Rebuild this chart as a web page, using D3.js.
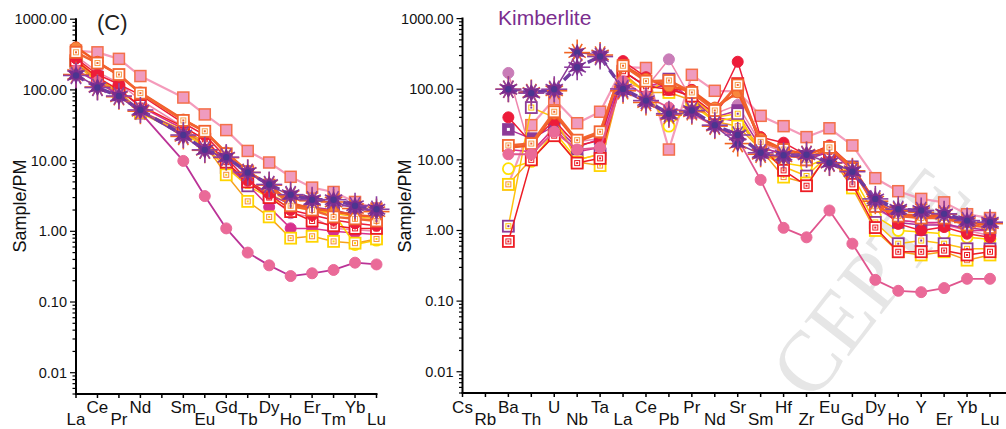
<!DOCTYPE html>
<html><head><meta charset="utf-8">
<script src="https://cdn.jsdelivr.net/npm/d3@7"></script>
<style>
body{margin:0;background:#fff}
svg{display:block;font-family:"Liberation Sans",Arial,Helvetica,sans-serif}
</style></head>
<body><svg id="c" width="1006" height="429"></svg>
<script>
// ---------- categories / ticks ----------
const reeAxis = ["La","Ce","Pr","Nd","Pm","Sm","Eu","Gd","Tb","Dy","Ho","Er","Tm","Yb","Lu"];
const reeAxisLabels = ["La","Ce","Pr","Nd","","Sm","Eu","Gd","Tb","Dy","Ho","Er","Tm","Yb","Lu"];
const reeData = ["La","Ce","Pr","Nd","Sm","Eu","Gd","Tb","Dy","Ho","Er","Tm","Yb","Lu"];
const spiderAxis = ["Cs","Rb","Ba","Th","U","Nb","Ta","La","Ce","Pb","Pr","Nd","Sr","Sm","Hf","Zr","Eu","Gd","Dy","Ho","Y","Er","Yb","Lu"];
const spiderData = ["Ba","Th","U","Nb","Ta","La","Ce","Pb","Pr","Nd","Sr","Sm","Hf","Zr","Eu","Gd","Dy","Ho","Y","Er","Yb","Lu"];
const yTickValues = [0.01,0.1,1,10,100,1000];
const yTickLabels = ["0.01","0.10","1.00","10.00","100.00","1000.00"];

// ---------- left panel (REE) values ----------
const leftPinkSquare    = [360,340,275,157,78,45,27,13.7,9.4,5.9,4.15,3.6,2.6,2.1];
const leftRedCircle     = [280,165,120,85,34,23,11,5.2,3.4,2.0,1.7,1.45,1.3,1.2];
const leftMagentaCircle = [220,140,100,58,28,18,8.5,4.6,2.2,1.1,1.1,1.0,0.95,0.9];
const leftPinkCircle    = [190,130,85,48,9.9,3.15,1.1,0.5,0.33,0.233,0.255,0.284,0.36,0.34];
const leftMauveCircle   = [300,180,125,72,30,20,9.5,5.0,3.1,1.8,1.6,1.1,1.05,1.0];
const leftOrangeSquare  = [340,240,165,90,37,26,12.5,7.0,4.5,2.3,2.0,1.6,1.5,1.4];
const leftYellowSquare  = [250,140,90,48,25,17,6.3,2.65,1.6,0.8,0.85,0.72,0.68,0.78];
const leftPurpleSquare  = [230,130,85,47,24,16,8,4.4,3.0,2.2,2.0,1.8,1.6,1.5];
const leftPurpleSquare2 = [240,140,90,50,26,17,9,4.8,3.3,2.4,2.2,2.0,1.7,1.6];
const leftRedSquare     = [260,150,100,60,30,20,9.5,5.0,3.0,1.9,1.4,1.2,1.1,1.1];
const leftYellowCircle  = [270,150,95,50,27,18,9,5,3.4,2.4,2.0,1.8,0.65,0.75];
const leftOrangeCircle  = [400,250,160,92,38,26,13,7,4.6,2.5,2.1,1.9,1.7,1.6];
const leftStarOrange    = [165,110,80,50,22,14,11,6.8,4.5,3.2,2.7,2.6,2.1,1.9];
const leftStarAverage   = [160,108,82,52,23,14.2,11.2,6.8,4.6,3.3,2.8,2.8,2.3,2.05];

// ---------- right panel (spider) values ----------
const rightPinkSquare    = [4.5,31,72,33,48,205,200,14,160,95,93,42,30,21,28,16,5.5,3.6,2.8,2.5,1.7,1.5];
const rightRedCircle     = [40,17.5,36,16,18.8,250,148,98,98,52,245,21,17.5,11.6,16,7.9,2.6,1.24,1.0,1.12,0.9,0.8];
const rightMagentaCircle = [14,13,28,13,15,180,110,130,70,40,35,15,12,10,14,7,2.4,1.4,1.3,1.3,1.0,1.0];
const rightPinkCircle    = [12,12,25,14,15,130,80,55,45,30,20,5.2,1.09,0.8,1.92,0.65,0.2,0.14,0.134,0.153,0.207,0.207];
const rightMauveCircle   = [170,12,30,18,20,120,105,265,70,45,60,17,13,11,13,8,2.0,1.4,1.3,1.2,1.0,0.85];
const rightOrangeSquare  = [16,17,48,19,25,215,130,133,90,50,115,18,14,10,15,7.5,2.2,1.6,1.5,1.5,1.2,1.1];
const rightYellowSquare  = [4.5,10.3,22,9.3,8.3,170,90,90,70,35,30,14,5.7,4.7,12,4.0,1.0,0.5,0.45,0.5,0.38,0.45];
const rightPurpleSquare  = [1.15,55,40,10,12,160,90,139,80,40,45,13,8,5.9,12,5,1.3,0.65,0.72,0.65,0.55,0.55];
const rightPurpleSquare2 = [27,20,30,15,20,180,110,110,75,40,50,15,12,10,13,8,2.2,1.3,1.2,1.2,1.1,1.0];
const rightRedSquare     = [0.7,10,22,9,10.5,180,110,100,80,45,120,16,7.1,4.3,13,4.5,1.1,0.5,0.5,0.52,0.45,0.5];
const rightYellowCircle  = [7.5,9.5,25,10,12,150,90,30,60,35,40,13,9,8,11,6,1.6,1.0,0.95,0.9,0.8,0.75];
const rightOrangeCircle  = [15,16,45,18,24,220,140,110,95,55,90,20,14,12,15,8,2.5,1.7,1.6,1.6,1.3,1.2];
const rightStarOrange    = [100,90,95,330,305,95,65,43,48,30,17,12,11,12,9,7,2.6,1.9,1.8,1.7,1.3,1.25];
const rightStarAverage   = [100,88,100,205,290,101,69,45,50,31,22.5,12.6,11.6,11.8,9.1,6.8,2.8,2.0,1.92,1.72,1.38,1.31];

// ---------- series table (styles) ----------
const series = [
  {left:leftPinkSquare,   right:rightPinkSquare,   m:"sqFill",  fill:"#ef9bbf", stroke:"#f4704a", line:"#f49bbb", lw:2.2},
  {left:leftMauveCircle,  right:rightMauveCircle,  m:"circ",    fill:"#c97db8", stroke:"#c97db8", line:"#ef86ad", lw:1.5},
  {left:leftMagentaCircle,right:rightMagentaCircle,m:"circ",    fill:"#d7308d", stroke:"#d7308d", line:"#d7308d", lw:1.5},
  {left:leftYellowCircle, right:rightYellowCircle, m:"circOpen",fill:"none",    stroke:"#ffe100", line:"#ffd200", lw:1.5},
  {left:leftPurpleSquare2,right:rightPurpleSquare2,m:"sqFill",  fill:"#8d3a97", stroke:"#8d3a97", inner:"#ffffff", line:"#b0309a", lw:1.5},
  {left:leftPurpleSquare, right:rightPurpleSquare, m:"sqOpen",  fill:"#fff",    stroke:"#8d3a97", inner:"#ffc20e", line:"#ffc20e", lw:1.5},
  {left:leftYellowSquare, right:rightYellowSquare, m:"sqOpen",  fill:"#fff",    stroke:"#ffd400", inner:"#f58b3a", line:"#f7a21b", lw:1.5},
  {left:leftRedSquare,    right:rightRedSquare,    m:"sqOpen",  fill:"#fff",    stroke:"#ed1c24", inner:"#ed1c24", line:"#ed1c24", lw:1.5},
  {left:leftRedCircle,    right:rightRedCircle,    m:"circ",    fill:"#ed1c3a", stroke:"#ed1c3a", line:"#ed1c3a", lw:1.5},
  {left:leftOrangeCircle, right:rightOrangeCircle, m:"circ",    fill:"#f7873c", stroke:"#f15a24", line:"#f15a24", lw:2.5},
  {left:leftOrangeSquare, right:rightOrangeSquare, m:"sqOpen",  fill:"#fff",    stroke:"#f26430", inner:"#f7a04a", line:"#f26430", lw:2.5},
  {left:leftPinkCircle,   right:rightPinkCircle,   m:"circ",    fill:"#ea6a98", stroke:"#ea6a98", line:"#e0558e", lw:1.8, leftLine:"#bb3397"},
  {left:leftStarOrange,   right:rightStarOrange,   m:"star",    fill:"#7b2d8e", stroke:"#f26522", line:"#8b3a96", lw:1.5},
  {left:leftStarAverage,  right:rightStarAverage,  m:"star",    fill:"#7b2d8e", stroke:"#8e3fa0", line:"#6f3a9f", lw:3.5, dash:"9,6"}
];

const svg = d3.select("#c");

// watermark (visible part of the stamp)
svg.append("text")
  .attr("transform","translate(870,282) rotate(-52)")
  .attr("text-anchor","middle")
  .attr("dominant-baseline","central")
  .style("font-family",'"Liberation Serif","DejaVu Serif",serif')
  .style("font-size","86px")
  .attr("fill","#e6e6e6")
  .text("CEPTE");

function starPath(ro, ri, n){
  const pts=[];
  for(let i=0;i<2*n;i++){
    const r = i%2===0?ro:ri;
    const a = Math.PI*i/n - Math.PI/2;
    pts.push([r*Math.cos(a), r*Math.sin(a)]);
  }
  return "M"+pts.map(p=>p[0].toFixed(2)+","+p[1].toFixed(2)).join("L")+"Z";
}

function marker(g, s, x, y){
  if(s.m==="sqFill"){
    g.append("rect").attr("x",x-5.5).attr("y",y-5.5).attr("width",11).attr("height",11)
      .attr("fill",s.fill).attr("stroke",s.stroke).attr("stroke-width",1.5);
    if(s.inner) g.append("rect").attr("x",x-1.5).attr("y",y-1.5).attr("width",3).attr("height",3).attr("fill",s.inner);
  } else if(s.m==="sqOpen"){
    g.append("rect").attr("x",x-5.5).attr("y",y-5.5).attr("width",11).attr("height",11)
      .attr("fill",s.fill).attr("stroke",s.stroke).attr("stroke-width",1.8);
    g.append("rect").attr("x",x-2.5).attr("y",y-2.5).attr("width",5).attr("height",5)
      .attr("fill","none").attr("stroke",s.inner).attr("stroke-width",1);
    g.append("rect").attr("x",x-1).attr("y",y-1).attr("width",2).attr("height",2).attr("fill",s.stroke);
  } else if(s.m==="circ"){
    g.append("circle").attr("cx",x).attr("cy",y).attr("r",5.5).attr("fill",s.fill)
      .attr("stroke",s.stroke).attr("stroke-width",1);
  } else if(s.m==="circOpen"){
    g.append("circle").attr("cx",x).attr("cy",y).attr("r",5.5).attr("fill","#fff")
      .attr("stroke",s.stroke).attr("stroke-width",1.8);
  } else if(s.m==="star"){
    const sg = g.append("g").attr("transform",`translate(${x},${y})`);
    for(let k=0;k<6;k++){
      const a = Math.PI*k/6;
      const L = k%3===0?13:10;
      sg.append("line").attr("x1",-L*Math.sin(a)).attr("y1",-L*Math.cos(a))
        .attr("x2",L*Math.sin(a)).attr("y2",L*Math.cos(a))
        .attr("stroke",s.stroke).attr("stroke-width",1.6);
    }
    sg.append("path").attr("d",starPath(9,4.5,6)).attr("fill",s.fill);
    sg.append("circle").attr("r",3.2).attr("fill","#4b3590");
  }
}

function drawPanel(cfg){
  const g = svg.append("g");
  const x = d3.scalePoint().domain(cfg.axisCats).range([cfg.x0, cfg.x1]);
  const y = d3.scaleLog().domain([0.005,1000]).range([cfg.yb, cfg.yt]);

  g.append("line").attr("x1",cfg.x0).attr("x2",cfg.x0).attr("y1",cfg.yt-1).attr("y2",cfg.yb)
    .attr("stroke","#000").attr("stroke-width",2);
  for(let e=-3;e<=2;e++){
    for(let m=1;m<=9;m++){
      const v = m*Math.pow(10,e);
      if(v<0.005||v>1000) continue;
      const yy = y(v);
      g.append("line").attr("x1",cfg.x0).attr("x2",cfg.x0-(m===1?6:3.5)).attr("y1",yy).attr("y2",yy)
        .attr("stroke","#000").attr("stroke-width",1.2);
    }
  }
  g.append("line").attr("x1",cfg.x0).attr("x2",cfg.x0-6).attr("y1",y(1000)).attr("y2",y(1000))
    .attr("stroke","#000").attr("stroke-width",1.2);
  yTickValues.forEach((v,i)=>{
    g.append("text").attr("x",cfg.x0-9).attr("y",y(v)+5).attr("text-anchor","end")
      .style("font-size","14.5px").attr("fill","#111").text(yTickLabels[i]);
  });
  g.append("line").attr("x1",cfg.x0-1).attr("x2",cfg.xAxisEnd).attr("y1",cfg.yb).attr("y2",cfg.yb)
    .attr("stroke","#000").attr("stroke-width",2);
  cfg.axisCats.forEach((c,i)=>{
    const xx = x(c);
    g.append("line").attr("x1",xx).attr("x2",xx).attr("y1",cfg.yb).attr("y2",cfg.yb+4)
      .attr("stroke","#000").attr("stroke-width",1.5);
    const upper = (i%2===1) !== cfg.firstUpper;
    g.append("text").attr("x",xx).attr("y",upper?412.5:424.5).attr("text-anchor","middle")
      .style("font-size","17px").attr("fill","#111").text(cfg.axisLabels[i]);
  });
  g.append("text").attr("transform",`translate(${cfg.ylabX},206) rotate(-90)`)
    .attr("text-anchor","middle").style("font-size","18px").attr("fill","#111").text("Sample/PM");

  series.forEach(s=>{
    const vals = s[cfg.key];
    const pts = vals.map((v,i)=>[x(cfg.dataCats[i]), y(v)]);
    g.append("path").attr("d",d3.line()(pts)).attr("fill","none")
      .attr("stroke",(cfg.key==="left"&&s.leftLine)?s.leftLine:s.line)
      .attr("stroke-width",s.lw).attr("stroke-dasharray",s.dash||null)
      .attr("stroke-linejoin","round");
    const mg = g.append("g");
    pts.forEach(p=>marker(mg,s,p[0],p[1]));
  });
}

drawPanel({key:"left", axisCats:reeAxis, axisLabels:reeAxisLabels, dataCats:reeData,
  x0:76, x1:376.5, xAxisEnd:377.5, yt:19.2, yb:394, firstUpper:false, ylabX:26});
drawPanel({key:"right", axisCats:spiderAxis, axisLabels:spiderAxis, dataCats:spiderData,
  x0:462.5, x1:990, xAxisEnd:1006, yt:18.6, yb:393, firstUpper:true, ylabX:411});

svg.append("text").attr("x",97).attr("y",30).style("font-size","22px").attr("fill","#222").text("(C)");
svg.append("text").attr("x",498).attr("y",24.5).style("font-size","21px").attr("fill","#7b2d8e").text("Kimberlite");
</script>
</body></html>
